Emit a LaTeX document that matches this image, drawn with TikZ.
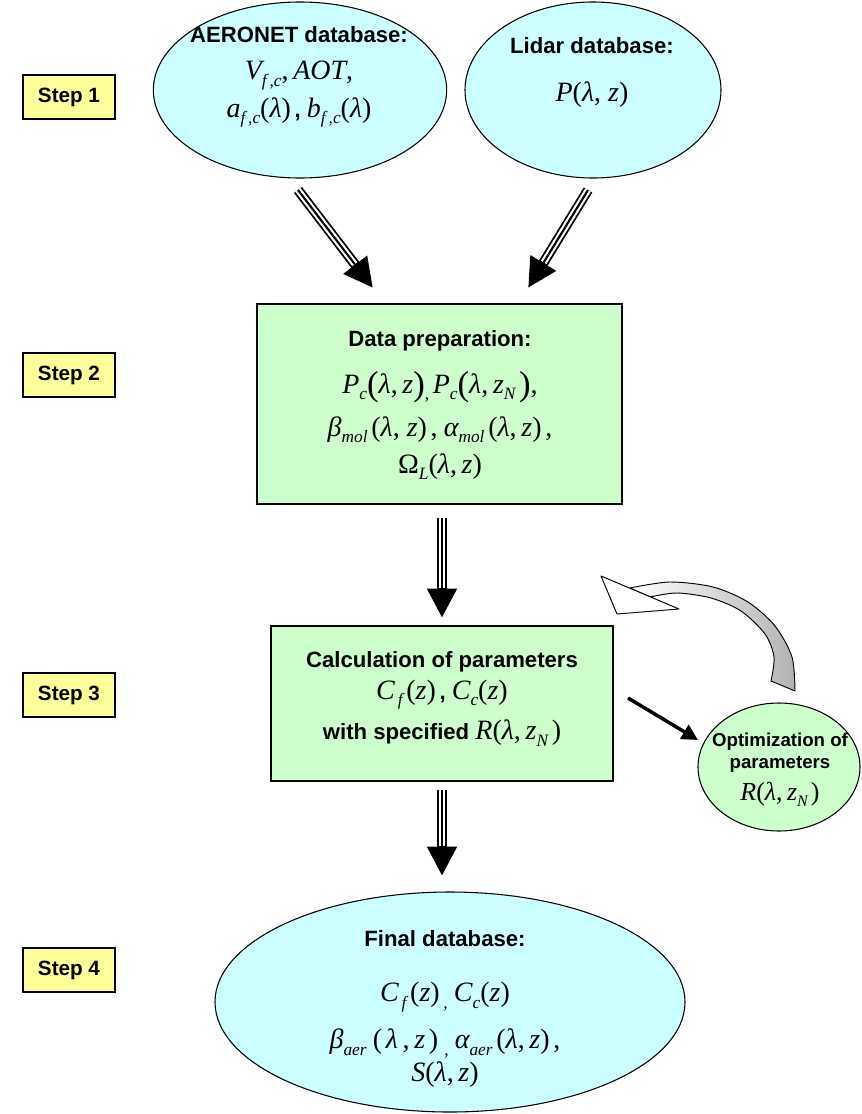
\documentclass[tikz,border=0pt]{standalone}
\usepackage{fontspec}
\setmainfont{Liberation Sans}
\newfontfamily\tnr{Liberation Serif}
\usetikzlibrary{shapes.geometric,arrows.meta,positioning}

\definecolor{stepyellow}{HTML}{FFFF99}
\definecolor{dbcyan}{HTML}{CCFFFF}
\definecolor{procgreen}{HTML}{CCFFCC}

% math-like pieces set in Times-like serif
\newcommand{\msz}{21}
\newcommand{\mssz}{13}
\newcommand{\mvar}[1]{{\tnr\mdseries\itshape\fontsize{\msz}{\msz}\selectfont #1}}
\newcommand{\mup}[1]{{\tnr\mdseries\upshape\fontsize{\msz}{\msz}\selectfont #1}}
\newcommand{\msub}[1]{\raisebox{-0.3em}{\tnr\mdseries\itshape\fontsize{\mssz}{\mssz}\selectfont #1}}
\newcommand{\bigpar}[1]{\raisebox{-0.1em}{\tnr\mdseries\upshape\fontsize{26}{26}\selectfont #1}}
\newcommand{\lz}{\mup{(}\mvar{λ}\mup{,\,}\mvar{z}\mup{)}}

% striped arrow: from, to
\newcommand{\triarrow}[2]{%
  \draw[line width=7.5pt, -{Triangle[length=22pt,width=21pt]}] (#1) -- (#2);
  \draw[line width=4.8pt, white, shorten >=22.5pt] (#1) -- (#2);
  \draw[line width=1.6pt, shorten >=22.5pt] (#1) -- (#2);}

\tikzset{
  stepbox/.style={draw, line width=1.1pt, fill=stepyellow, minimum width=69pt,
    minimum height=33pt, inner sep=0pt, font={\bfseries\fontsize{15.5}{16}\selectfont}},
  dbell/.style={ellipse, draw, line width=0.8pt, fill=dbcyan, inner sep=0pt},
  procbox/.style={draw, line width=1.7pt, fill=procgreen, inner sep=0pt},
  lbl/.style={align=center, inner sep=0pt,
    font={\bfseries\fontsize{16.6}{16}\selectfont\lineskiplimit=-50pt}},
}

\begin{document}
\begin{tikzpicture}[x=0.75pt, y=-0.75pt]
	\useasboundingbox (0,0) rectangle (862,1114);
	
	\foreach \s/\y in {1/97, 2/375, 3/695, 4/970}
		\node[stepbox] (step\s) at (69,\y) {Step \s};
	
	% step 1
	\node[dbell, minimum width=220pt, minimum height=132pt] (aeronet) at (300,90) {};
	\node[lbl] (aeronettxt) at (299,77) {AERONET database:\\[12pt]
		\mvar{V}\msub{f\,,c}\mup{,\,}\mvar{AOT}\mup{,}\\[12pt]
		\mvar{a}\msub{f\,,c}\mup{(}\mvar{λ}\mup{)}\,, \mvar{b}\msub{f\,,c}\mup{(}\mvar{λ}\mup{)}};
	\node[dbell, minimum width=192pt, minimum height=132pt] (lidar) at (593,90) {};
	\node[lbl] (lidartxt) at (592,72) {Lidar database:\\[20pt] \mvar{P}\mup{(}\mvar{λ}\mup{,\ }\mvar{z}\mup{)}};
	
	\coordinate (A1) at (298,190);
	\coordinate (A2) at (373,288);
	\coordinate (L1) at (588,190);
	\coordinate (L2) at (528,288);
	\triarrow{A1}{A2}
	\triarrow{L1}{L2}
	
	% step 2
	\node[procbox, minimum width=273.75pt, minimum height=150pt] (prep) at (439.5,404) {};
	\node[lbl] (preptxt) at (440,405) {Data preparation:\\[19.25pt]
		\mvar{P}\msub{c}\bigpar{(}\mvar{λ}\mup{,\,}\mvar{z}\bigpar{)}\msub{,}\,\mvar{P}\msub{c}\bigpar{(}\mvar{λ}\mup{,\,}\mvar{z}\msub{N}\,\bigpar{)}\mup{,}\\[16.25pt]
		\mvar{β}\msub{mol}\,\mup{(}\mvar{λ}\mup{,\ }\mvar{z}\mup{)}\,\mup{,}\ \mvar{α}\msub{mol}\,\mup{(}\mvar{λ}\mup{,\,}\mvar{z}\mup{)}\,\mup{,}\\[11.75pt]
		\mup{Ω}\msub{L}\lz};
	
	\coordinate (P1) at (442,518);
	\coordinate (P2) at (442,618);
	\triarrow{P1}{P2}
	
	% step 3
	\node[procbox, minimum width=256.5pt, minimum height=116.25pt] (calc) at (442,703.5) {};
	\node[lbl] (calctxt) at (442,699) {Calculation of parameters\\[7.5pt]
		\mvar{C}\msub{\,f}\,\mup{(}\mvar{z}\mup{)}\,, \mvar{C}\msub{c}\mup{(}\mvar{z}\mup{)}\\[14.5pt]
		with specified \mvar{R}\mup{(}\mvar{λ}\mup{,\,}\mvar{z}\msub{N}\,\mup{)}};
	
	\node[ellipse, draw, line width=0.8pt, fill=procgreen, inner sep=0pt,
		minimum width=121.5pt, minimum height=96pt] (optim) at (779,767) {};
	\node[lbl, font={\bfseries\fontsize{14}{14}\selectfont\lineskiplimit=-50pt\renewcommand{\msz}{19.5}\renewcommand{\mssz}{12}}] (optimtxt) at (780,770)
		{Optimization of\\[2.5pt] parameters\\[10pt] \mvar{R}\mup{(}\mvar{λ}\mup{,\,}\mvar{z}\msub{N}\,\mup{)}};
	
	\coordinate (O1) at (628,698);
	\coordinate (O2) at (698,740);
	\draw[line width=2.6pt, -{Triangle[length=12pt,width=12pt]}] (O1) -- (O2);
	
	% feedback arrow
	\draw[line width=0.7pt, line join=round, left color=white, right color=gray!60]
		plot[smooth] coordinates {(630,588) (670,582) (713,587) (748,602) (775,626) (792,657) (795,691)}
		-- plot[smooth] coordinates {(771,681) (774,657) (765,634) (741,611) (711,598) (677,593) (650,597)}
		-- cycle;
	\draw[line width=0.7pt, line join=round, fill=white] (601,576) -- (679,609) -- (617,614) -- cycle;
	
	\coordinate (C1) at (442,790);
	\coordinate (C2) at (442,876);
	\triarrow{C1}{C2}
	
	% step 4
	\node[dbell, minimum width=352.5pt, minimum height=165pt] (final) at (450,1002) {};
	\node[lbl] (finaltxt) at (445,1009) {Final database:\\[25.25pt]
		\mvar{C}\msub{\,f}\,\mup{(}\mvar{z}\mup{)}\,\msub{,}\ \mvar{C}\msub{c}\mup{(}\mvar{z}\mup{)}\\[19.25pt]
		\mvar{β}\msub{aer}\ \mup{(}\,\mvar{λ}\mup{\,,\,}\mvar{z}\,\mup{)}\ \msub{,}\ \mvar{α}\msub{aer}\,\lz\,\mup{,}\\[8.5pt]
		\mvar{S}\lz};
\end{tikzpicture}
\end{document}
